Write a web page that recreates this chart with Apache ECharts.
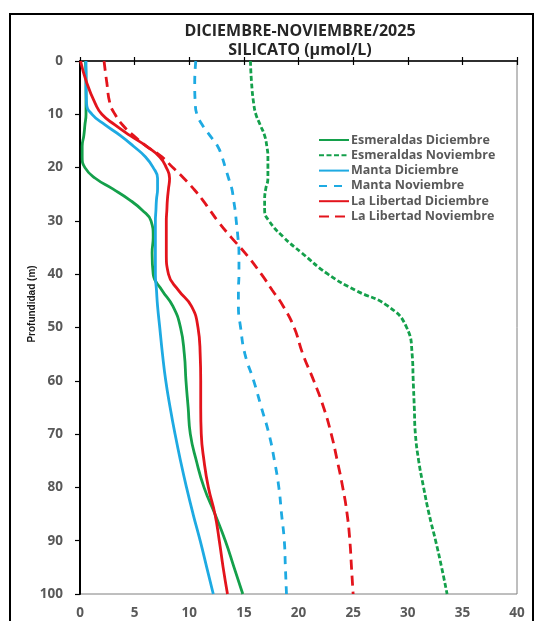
<!DOCTYPE html>
<html>
<head>
<meta charset="utf-8">
<script src="https://cdn.jsdelivr.net/npm/echarts@6/dist/echarts.min.js"></script>
<style>
  html, body { margin: 0; padding: 0; background: #fff; }
  #chart { width: 536px; height: 621px; }
</style>
</head>
<body>
<div id="chart"></div>
<script>
// Depth levels (m) shared by every profile
const depths = [0, 4, 8, 10, 12, 14, 16, 18, 20, 22, 24, 26, 28, 30, 33, 36, 40, 43, 46, 50, 55, 60, 65, 70, 75, 80, 85, 90, 95, 100];

// Silicate concentration (µmol/L) per station and month
const esmeraldasDic = [0.5, 0.55, 0.55, 0.55, 0.45, 0.35, 0.2, 0.2, 0.45, 1.4, 3.0, 4.5, 5.7, 6.5, 6.7, 6.6, 6.7, 7.5, 8.5, 9.2, 9.55, 9.7, 9.9, 10.1, 10.65, 11.35, 12.35, 13.3, 14.1, 14.9];
const esmeraldasNov = [15.6, 15.7, 15.9, 16.1, 16.5, 16.9, 17.1, 17.2, 17.2, 17.2, 17.0, 16.9, 16.9, 17.3, 18.6, 20.3, 22.7, 25.2, 28.2, 29.9, 30.4, 30.5, 30.6, 30.7, 31.0, 31.45, 31.95, 32.55, 33.1, 33.6];
const mantaDic = [0.55, 0.55, 0.6, 1.1, 2.3, 3.7, 4.9, 6.0, 6.7, 7.1, 7.1, 7.0, 6.95, 6.9, 6.9, 6.9, 6.9, 7.0, 7.1, 7.3, 7.55, 7.85, 8.25, 8.7, 9.2, 9.75, 10.35, 11.0, 11.6, 12.2];
const mantaNov = [10.6, 10.5, 10.55, 10.7, 11.2, 11.9, 12.6, 13.0, 13.3, 13.6, 13.9, 14.05, 14.2, 14.3, 14.45, 14.55, 14.55, 14.5, 14.5, 14.7, 15.1, 15.9, 16.6, 17.3, 17.8, 18.2, 18.45, 18.7, 18.8, 18.9];
const libertadDic = [0.05, 0.6, 1.4, 2.0, 3.2, 4.6, 6.1, 7.3, 7.9, 8.2, 8.1, 8.0, 7.95, 7.9, 7.9, 7.9, 8.1, 9.0, 10.2, 10.8, 11.0, 11.05, 11.05, 11.1, 11.35, 11.75, 12.35, 12.75, 13.1, 13.5];
const libertadNov = [2.2, 2.45, 2.75, 3.2, 3.9, 4.9, 6.1, 7.5, 8.5, 9.5, 10.4, 11.2, 11.9, 12.6, 13.8, 15.1, 16.6, 17.6, 18.6, 19.6, 20.4, 21.4, 22.3, 23.0, 23.55, 24.05, 24.45, 24.7, 24.85, 25.0];

const seriesNames = ['Esmeraldas Diciembre', 'Esmeraldas Noviembre', 'Manta Diciembre', 'Manta Noviembre', 'La Libertad Diciembre', 'La Libertad Noviembre'];

const GREEN = '#14A04B', CYAN = '#1EAAE2', RED = '#E3141C';
const GRAY_TEXT = '#595959';
const FONT = '"Open Sans", "Liberation Sans", Arial, sans-serif';

function profile(values) {
  return depths.map((d, i) => [values[i], d]);
}

function lineSeries(name, values, color, dash) {
  return {
    name: name,
    type: 'line',
    xAxisIndex: 0,
    yAxisIndex: 0,
    data: profile(values),
    symbol: 'none',
    showSymbol: false,
    smooth: 0.5,
    lineStyle: { color: color, width: 2.8, type: dash || 'solid', cap: 'butt' },
    itemStyle: { color: color },
    z: 3
  };
}

const chart = echarts.init(document.getElementById('chart'), null, { renderer: 'canvas' });

const xCommon = { type: 'value', min: 0, max: 40, interval: 5, gridIndex: 0, splitLine: { show: false } };

chart.setOption({
  animation: false,
  backgroundColor: '#fff',
  title: {
    text: 'DICIEMBRE-NOVIEMBRE/2025\nSILICATO (µmol/L)',
    left: 295,
    top: 17,
    textAlign: 'center',
    textStyle: { fontFamily: FONT, fontSize: 16, fontWeight: 'bold', color: '#262626', lineHeight: 19 }
  },
  graphic: [
    {
      type: 'rect',
      shape: { x: 10, y: 14, width: 523, height: 620 },
      style: { fill: 'none', stroke: '#000', lineWidth: 2 },
      silent: true, z: 0
    },
    {
      type: 'text',
      x: 32, y: 304,
      rotation: Math.PI / 2,
      style: {
        text: 'Profundidad (m)',
        font: 'bold 10px "Liberation Sans", Arial, sans-serif',
        fill: '#1a1a1a',
        textAlign: 'center',
        textVerticalAlign: 'middle'
      },
      z: 5
    }
  ],
  legend: {
    orient: 'vertical',
    left: 318,
    top: 133,
    padding: 0,
    itemWidth: 30,
    itemHeight: 14,
    itemGap: 1.3,
    data: seriesNames,
    itemStyle: { color: 'rgba(0,0,0,0)', borderColor: 'rgba(0,0,0,0)', borderWidth: 0 },
    textStyle: { fontFamily: FONT, fontSize: 12.5, lineHeight: 14, fontWeight: 'bold', color: GRAY_TEXT, padding: [0, 0, 0, -3] }
  },
  grid: {
    left: 80, top: 61, right: 19, bottom: 27,
    show: true, borderColor: '#7f7f7f', borderWidth: 1, backgroundColor: 'transparent'
  },
  xAxis: [
    Object.assign({}, xCommon, {
      position: 'top',
      axisLine: { show: true, lineStyle: { color: '#000', width: 1.5 } },
      axisTick: { show: true, inside: false, length: 4, lineStyle: { color: '#000', width: 1.2 } },
      axisLabel: { show: false }
    }),
    Object.assign({}, xCommon, {
      position: 'top',
      axisLine: { show: false },
      axisTick: { show: true, inside: true, length: 4, lineStyle: { color: '#000', width: 1.2 } },
      axisLabel: { show: false }
    }),
    Object.assign({}, xCommon, {
      position: 'bottom',
      axisLine: { show: false },
      axisTick: { show: false },
      axisLabel: { show: true, margin: 12, fontFamily: FONT, fontSize: 13.5, fontWeight: 'bold', color: GRAY_TEXT }
    })
  ],
  yAxis: {
    type: 'value',
    inverse: true,
    min: 0, max: 100, interval: 10,
    axisLine: { show: true, onZero: false, lineStyle: { color: '#000', width: 2 } },
    axisTick: { show: true, inside: false, length: 5, lineStyle: { color: '#000', width: 1.2 } },
    axisLabel: { margin: 17, fontFamily: FONT, fontSize: 13.5, fontWeight: 'bold', color: GRAY_TEXT },
    splitLine: { show: false }
  },
  series: [
    lineSeries(seriesNames[0], esmeraldasDic, GREEN),
    lineSeries(seriesNames[1], esmeraldasNov, GREEN, [5, 2.5]),
    lineSeries(seriesNames[2], mantaDic, CYAN),
    lineSeries(seriesNames[3], mantaNov, CYAN, [8, 7]),
    lineSeries(seriesNames[4], libertadDic, RED),
    lineSeries(seriesNames[5], libertadNov, RED, [10, 6])
  ]
});
</script>
</body>
</html>
